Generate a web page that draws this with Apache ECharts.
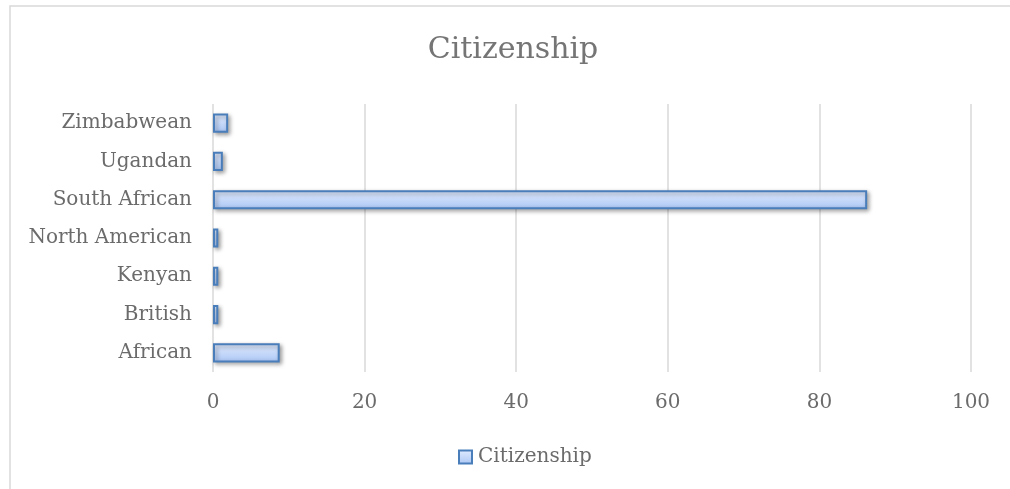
<!DOCTYPE html>
<html>
<head>
<meta charset="utf-8">
<script src="https://cdn.jsdelivr.net/npm/echarts@6/dist/echarts.min.js"></script>
<style>
html,body{margin:0;padding:0;background:#fff;}
#chart{width:1010px;height:489px;}
</style>
</head>
<body>
<div id="chart"></div>
<script>
const categories = ['African', 'British', 'Kenyan', 'North American', 'South African', 'Ugandan', 'Zimbabwean'];
const values = [8.8, 0.7, 0.7, 0.7, 86.3, 1.3, 2.0];
const xTicks = { min: 0, max: 100, interval: 20 };
const seriesName = 'Citizenship';
const titleText = 'Citizenship';

const font = 'DejaVu Serif';
const textColor = '#6b6b6b';
const barFill = new echarts.graphic.LinearGradient(0, 0, 0, 1, [
  { offset: 0, color: '#e2ecff' },
  { offset: 1, color: '#abc6f4' }
]);

const chart = echarts.init(document.getElementById('chart'), null, { renderer: 'canvas' });
chart.setOption({
  animation: false,
  backgroundColor: '#ffffff',
  graphic: [{
    type: 'rect',
    shape: { x: 10, y: 6, width: 1100, height: 600 },
    style: { fill: 'none', stroke: '#d9d9d9', lineWidth: 1.5 },
    silent: true, z: -1
  }],
  title: {
    text: titleText,
    left: 508,
    top: 30,
    textAlign: 'center',
    textStyle: { fontFamily: font, fontSize: 30, fontWeight: 'normal', color: '#757575' }
  },
  legend: {
    data: [{ name: seriesName, icon: 'rect' }],
    left: 453,
    top: 442,
    itemWidth: 13,
    itemHeight: 13,
    itemGap: 6,
    textStyle: { fontFamily: font, fontSize: 20, color: textColor, padding: [0, 0, 0, 1] }
  },
  grid: { left: 213, right: 39, top: 104, bottom: 117, containLabel: false },
  xAxis: {
    type: 'value',
    min: xTicks.min, max: xTicks.max, interval: xTicks.interval,
    axisLine: { show: false },
    axisTick: { show: false },
    splitLine: { show: true, lineStyle: { color: '#d9d9d9', width: 1.5 } },
    axisLabel: { fontFamily: font, fontSize: 20, color: textColor, margin: 21 }
  },
  yAxis: {
    type: 'category',
    data: categories,
    axisLine: { show: false },
    axisTick: { show: false },
    axisLabel: { fontFamily: font, fontSize: 20, color: textColor, margin: 21 }
  },
  series: [{
    name: seriesName,
    type: 'bar',
    data: values,
    barCategoryGap: '50%',
    itemStyle: {
      color: barFill,
      borderColor: '#4a7ebb',
      borderWidth: 2,
      shadowColor: 'rgba(0,0,0,0.35)',
      shadowBlur: 4,
      shadowOffsetX: 2,
      shadowOffsetY: 2
    }
  }]
});
</script>
</body>
</html>
